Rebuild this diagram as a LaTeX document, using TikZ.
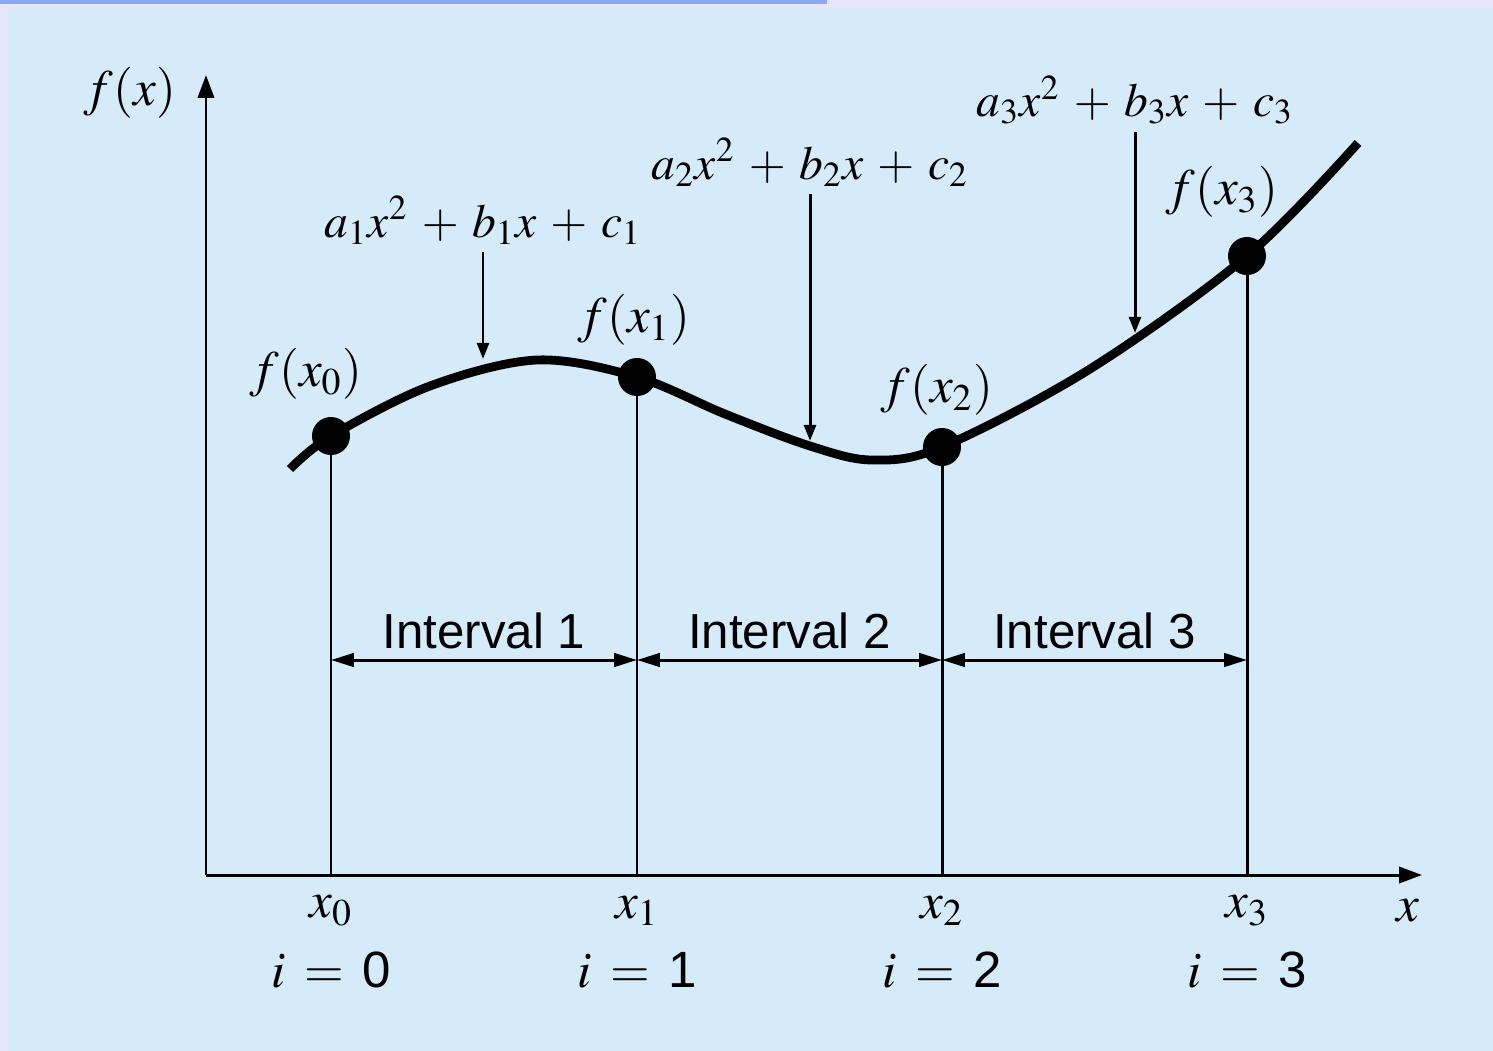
\documentclass[tikz,border=0pt]{standalone}
\usepackage{mathptmx}
\usepackage{fontspec}
\setsansfont{Liberation Sans}
\usetikzlibrary{arrows.meta, positioning, calc}
\definecolor{PanelBlue}{HTML}{D5EBF9}
\definecolor{FrameLilac}{HTML}{E6E6FA}
\definecolor{BarBlue}{HTML}{8CA6F4}
% quadratic piece a_k x^2 + b_k x + c_k, with wide spacing
\newcommand{\quadpiece}[1]{$\medmuskip=5.2mu a_{#1}x^2 + b_{#1}x + c_{#1}$}
\tikzset{
    % Node styles
    knot/.style={
        circle,
        fill=black,
        inner sep=0pt,
        minimum size=0.38cm
    },
    mathlabel/.style={
        inner sep=2pt,
        font=\fontsize{14.5}{17}\selectfont
    },
    polylabel/.style={
        inner sep=2pt,
        anchor=south,
        font=\fontsize{13.5}{16}\selectfont
    },
    sanslabel/.style={
        inner sep=2pt,
        font=\fontsize{14}{17}\selectfont\sffamily
    },
    % Line styles
    splineline/.style={
        line width=2.5pt,
        line cap=butt
    },
    guide/.style={
        line width=0.85pt
    },
    axisarrow/.style={
        line width=0.85pt,
        -{Triangle[length=6.5pt,width=4.6pt]}
    },
    pointer/.style={
        line width=0.85pt,
        -{Triangle[length=4.6pt,width=3.4pt]}
    },
    spanarrow/.style={
        line width=0.85pt,
        {Triangle[length=6.5pt,width=3.8pt]}-{Triangle[length=6.5pt,width=3.8pt]}
    }
}

\begin{document}
\begin{tikzpicture}[x=0.01cm, y=-0.01cm]
    % Background
    \fill[FrameLilac] (0,0) rectangle (1493,1051);
    \fill[PanelBlue] (8,9) rectangle (1493,1051);
    \fill[BarBlue] (0,0) rectangle (827,4);
    \useasboundingbox (0,0) rectangle (1493,1051);

    % Axes
    \coordinate (origin) at (206,875);
    \coordinate (xend) at (1422,875);
    \coordinate (yend) at (206,75);
    \draw[axisarrow] (origin) -- (xend);
    \draw[axisarrow] (origin) -- (yend);
    \node[mathlabel] (ylab) at (130,93) {$f(x)$};
    \node[mathlabel] (xlab) at (1408,911) {$x$};

    % Spline curve
    \draw[splineline] plot[smooth, tension=0.55] coordinates {
        (290,469) (331,436) (430,386) (537,360) (637,377) (725,414)
        (810,446) (872,460) (942,447) (1090,369) (1247,256) (1358,143)};

    % Knots, guides and axis labels
    \foreach \i/\x/\y in {0/331/436, 1/637/377, 2/942/447, 3/1247/256} {
        \node[knot] (k\i) at (\x,\y) {};
        \coordinate (b\i) at (\x,875);
        \coordinate (m\i) at (\x,660);
        \draw[guide] (k\i.center) -- (b\i);
        \node[mathlabel] (xl\i) at (\x,911) {$x_{\i}$};
        \node[mathlabel] (il\i) at (\x,970) {$\thickmuskip=6.5mu i = \mbox{\sffamily\i}$};
    }

    % Function values
    \node[mathlabel] (f0) at (306,374) {$f(x_0)$};
    \node[mathlabel] (f1) at (634,320) {$f(x_1)$};
    \node[mathlabel] (f2) at (937,390) {$f(x_2)$};
    \node[mathlabel] (f3) at (1222,192) {$f(x_3)$};

    % Intervals
    \foreach \a/\b/\n in {0/1/1, 1/2/2, 2/3/3} {
        \draw[spanarrow] (m\a) -- (m\b);
        \node[sanslabel, above=1pt of $(m\a)!0.5!(m\b)$] (iv\n) {Interval \n};
    }

    % Quadratics
    \node[polylabel] (q1) at (483,252) {\quadpiece{1}};
    \node[polylabel] (q2) at (810,194) {\quadpiece{2}};
    \node[polylabel] (q3) at (1135,132) {\quadpiece{3}};
    \coordinate (t1) at (483,359);
    \coordinate (t2) at (810,441);
    \coordinate (t3) at (1135,333);
    \foreach \n in {1,2,3} {
        \draw[pointer] (q\n.south) -- (t\n);
    }
\end{tikzpicture}
\end{document}
